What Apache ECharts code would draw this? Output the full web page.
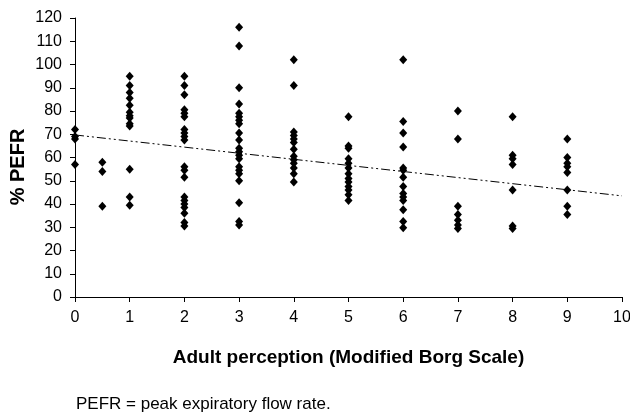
<!DOCTYPE html>
<html>
<head>
<meta charset="utf-8">
<script src="https://cdn.jsdelivr.net/npm/echarts@6/dist/echarts.min.js"></script>
<style>
  html, body { margin: 0; padding: 0; background: #fff; }
  #main { width: 630px; height: 416px; }
</style>
</head>
<body>
<div id="main"></div>
<script>
// Borg scale levels and the %PEFR readings at each level
var borgLevels = [0, 0.5, 1, 2, 3, 4, 5, 6, 7, 8, 9];
var pefr_0 = [72, 69, 68, 57];
var pefr_05 = [58, 54, 39];
var pefr_1 = [95, 91, 88, 85.5, 82.5, 79.5, 78, 77, 74.5, 73.5, 55, 43, 39.5];
var pefr_2 = [95, 91, 87, 80.5, 79, 77.5, 72, 70.5, 69, 67.5, 56, 54.5, 51.5, 43, 41.5, 40, 38.5, 36, 32, 30.5];
var pefr_3 = [116, 108, 90, 83, 79, 77.5, 76, 74.5, 70.5, 67.5, 64, 62.5, 61, 59.5, 56, 54.5, 53, 50, 40.5, 32.5, 31];
var pefr_4 = [102, 91, 71, 69.5, 68, 66.5, 63.5, 60.5, 59, 57.5, 55.5, 53, 49.5];
var pefr_5 = [77.5, 65, 64, 59.5, 57.5, 55.5, 53, 51, 49.5, 47.5, 46, 44, 41.5];
var pefr_6 = [102, 75.5, 70.5, 64.5, 55.5, 54.5, 51.5, 47.5, 44.5, 43, 41.5, 37.5, 32.5, 29.8];
var pefr_7 = [80, 68, 39, 35.5, 33, 31, 29.5];
var pefr_8 = [77.5, 61, 59.5, 57, 46, 30.5, 29.5];
var pefr_9 = [68, 60, 57.5, 56, 53.5, 46, 39, 35.5];
var pefrByLevel = [pefr_0, pefr_05, pefr_1, pefr_2, pefr_3, pefr_4, pefr_5, pefr_6, pefr_7, pefr_8, pefr_9];

// linear trend line end points
var trendX = [0, 10];
var trendY = [69.7, 43.5];

var points = [];
for (var i = 0; i < borgLevels.length; i++) {
    for (var j = 0; j < pefrByLevel[i].length; j++) {
        points.push([borgLevels[i], pefrByLevel[i][j]]);
    }
}

var dom = document.getElementById("main");
var myChart = echarts.init(dom, null, { renderer: 'canvas' });
var fontFam = '"Liberation Sans", Arial, sans-serif';
var option = {
    animation: false,
    backgroundColor: '#fff',
    textStyle: { fontFamily: fontFam },
    grid: { left: 75, right: 8, top: 18, bottom: 119, containLabel: false, outerBoundsMode: 'none' },
    xAxis: {
        type: 'value',
        min: 0,
        max: 10,
        interval: 1,
        name: 'Adult perception (Modified Borg Scale)',
        nameLocation: 'middle',
        nameGap: 51,
        nameTextStyle: { fontSize: 19, fontWeight: 'bold', color: '#000', fontFamily: fontFam },
        axisLine: { lineStyle: { color: '#000', width: 1 } },
        axisTick: { show: true, inside: false, length: 5, lineStyle: { color: '#000' } },
        axisLabel: { fontSize: 16, color: '#000', margin: 13, fontFamily: fontFam },
        splitLine: { show: false }
    },
    yAxis: {
        type: 'value',
        min: 0,
        max: 120,
        interval: 10,
        axisLine: { show: true, lineStyle: { color: '#000', width: 1 } },
        axisTick: { show: true, inside: false, length: 5, lineStyle: { color: '#000' } },
        axisLabel: { fontSize: 16, color: '#000', margin: 13, fontFamily: fontFam },
        splitLine: { show: false }
    },
    graphic: [
        {
            // y axis title, drawn by hand so it can sit where the original has it
            type: 'text',
            x: 18,
            y: 167,
            rotation: Math.PI / 2,
            style: {
                text: '% PEFR',
                fill: '#000',
                font: 'bold 20px "Liberation Sans", Arial, sans-serif',
                align: 'center',
                verticalAlign: 'middle'
            }
        },
        {
            type: 'text',
            left: 76,
            top: 396,
            style: { text: 'PEFR = peak expiratory flow rate.', fill: '#000', font: '17px "Liberation Sans", Arial, sans-serif' }
        }
    ],
    series: [
        {
            type: 'scatter',
            symbol: 'diamond',
            symbolSize: [8, 9],
            itemStyle: { color: '#000', opacity: 1 },
            data: points,
            z: 3
        },
        {
            type: 'line',
            data: [[trendX[0], trendY[0]], [trendX[1], trendY[1]]],
            showSymbol: false,
            symbol: 'none',
            lineStyle: { color: '#000', width: 1, type: [9, 3, 2, 3, 2, 3] },
            z: 2
        }
    ]
};
if (option && typeof option === "object") {
    myChart.setOption(option, true);
}
</script>
</body>
</html>
